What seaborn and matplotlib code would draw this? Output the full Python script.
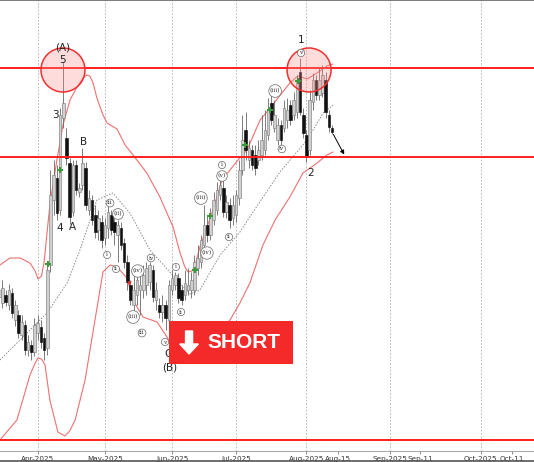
import matplotlib
matplotlib.use("Agg")
import matplotlib.pyplot as plt
import seaborn as sns
import pandas as pd
from matplotlib.patches import Ellipse, Rectangle, FancyArrow
from matplotlib.lines import Line2D

# ---------------- data (bar index = trading day, Mar-14-2025 = 0) ----------------
opens = [154, 148, 156, 146, 158, 131, 136, 116, 126, 101,
         106, 99, 118, 124, 113, 103, 186, 251, 273, 241,
         333, 313, 288, 239, 286, 259, 266, 283, 241, 251,
         236, 221, 229, 213, 223, 236, 229, 216, 223, 208,
         189, 166, 146, 156, 161, 161, 166, 169, 181, 151,
         146, 139, 146, 131, 161, 166, 173, 161, 156, 161,
         161, 161, 183, 189, 206, 226, 216, 231, 241, 256,
         263, 239, 246, 233, 236, 253, 281, 321, 291, 301,
         296, 291, 296, 301, 316, 348, 323, 311, 326, 323,
         331, 346, 336, 339, 379, 336, 316, 301, 349, 371,
         356, 358, 371, 336, 323]
highs = [168, 171, 161, 167, 163, 151, 141, 136, 131, 116,
         111, 133, 136, 131, 118, 186, 281, 291, 286, 343,
         389, 323, 293, 291, 291, 268, 303, 289, 261, 256,
         246, 241, 236, 233, 246, 241, 233, 231, 229, 213,
         196, 171, 176, 186, 181, 186, 189, 189, 186, 169,
         153, 156, 151, 171, 181, 179, 178, 166, 181, 183,
         179, 196, 206, 216, 246, 236, 243, 259, 269, 279,
         271, 256, 253, 256, 261, 291, 336, 339, 311, 306,
         306, 311, 336, 341, 353, 356, 351, 333, 331, 351,
         353, 351, 359, 376, 393, 343, 321, 361, 378, 376,
         383, 386, 379, 341, 326]
lows = [146, 143, 145, 141, 133, 125, 113, 111, 96, 95,
        91, 95, 111, 103, 91, 96, 179, 236, 231, 236,
        323, 286, 227, 235, 256, 254, 261, 241, 236, 226,
        213, 211, 203, 206, 213, 216, 206, 189, 201, 183,
        161, 146, 139, 146, 136, 153, 156, 161, 149, 141,
        133, 129, 121, 126, 156, 161, 148, 146, 151, 156,
        153, 156, 176, 183, 201, 209, 211, 226, 236, 251,
        234, 233, 223, 226, 229, 246, 276, 291, 283, 281,
        276, 286, 291, 296, 311, 326, 319, 306, 306, 319,
        323, 326, 331, 333, 336, 313, 289, 296, 341, 351,
        351, 354, 333, 319, 317]
closes = [161, 163, 149, 161, 138, 146, 118, 129, 101, 109,
          99, 126, 128, 109, 101, 181, 256, 276, 238, 336,
          348, 293, 234, 286, 261, 263, 288, 246, 253, 231,
          219, 233, 211, 226, 239, 221, 219, 226, 206, 189,
          169, 151, 161, 171, 166, 176, 183, 186, 154, 161,
          139, 146, 133, 166, 173, 176, 153, 151, 168, 166,
          171, 189, 193, 211, 226, 216, 236, 251, 261, 266,
          239, 249, 231, 246, 256, 281, 311, 301, 303, 286,
          283, 301, 311, 321, 341, 331, 336, 326, 311, 343,
          341, 331, 351, 369, 339, 318, 294, 351, 371, 356,
          371, 376, 339, 324, 319]

upper_idx = [0.2, 3.3, 6.5, 9.6, 11.2, 12.1, 13.2, 14.0, 15.8, 18.0, 19.9, 22.1, 24.3,
             26.2, 27.3, 28.3, 29.3, 30.5, 32.4, 33.7, 35.2, 36.8, 39.3, 41.8, 46.1,
             50.2, 54.3, 56.5, 58.0, 59.0, 60.2, 61.2, 62.7, 66.8, 69.6, 72.1, 74.6,
             77.4, 81.5, 84.6, 90.8, 93.3, 96.2, 99.3, 102.4, 104.3]
upper_val = [186, 193, 193, 188, 180, 172, 175, 189, 246, 291, 326, 351, 364,
             373, 376, 375, 368, 353, 336, 328, 325, 322, 306, 296, 278,
             254, 224, 198, 184, 179, 180, 186, 204, 241, 271, 281, 291,
             301, 331, 343, 368, 375, 372, 378, 385, 387]
lower_idx = [0.2, 5.5, 9.6, 11.2, 12.1, 13.2, 14.3, 15.8, 18.3, 20.5, 22.0, 23.7, 26.8,
             29.9, 32.4, 34.6, 36.8, 39.9, 41.8, 44.9, 49.3, 52.4, 54.3, 58.0, 62.7,
             67.4, 72.1, 75.2, 78.3, 82.4, 86.2, 90.8, 94.9, 99.3, 102.4, 104.3]
lower_val = [11, 31, 76, 88, 93, 92, 86, 51, 19, 15, 20, 31, 71,
             131, 179, 186, 184, 173, 151, 134, 129, 114, 104, 93, 101,
             116, 131, 148, 168, 206, 231, 254, 278, 288, 296, 299]
mid_idx = [0.2, 6.5, 14.9, 21.2, 25.2, 30.5, 35.5, 40.8, 47.1, 55.5, 59.6, 62.7,
           69.0, 75.2, 79.3, 87.7, 96.2, 101.2, 104.3]
mid_val = [91, 111, 138, 168, 201, 251, 258, 238, 201, 171, 157, 161,
           196, 219, 239, 279, 311, 338, 346]

level_values = [383, 294, 11]

tick_pos = [12, 33, 54, 74, 96, 106, 122.1, 131.5, 150.5, 160.2]
tick_labels = ["Apr-2025", "May-2025", "Jun-2025", "Jul-2025", "Aug-2025", "Aug-15",
               "Sep-2025", "Sep-11", "Oct-2025", "Oct-11"]
month_grid = [12, 33, 54, 74, 96, 122.1, 150.5]

wave_labels = ["(A)", "5", "3", "4", "A", "B", "1", "2", "C", "(B)"]
wave_x = [19.9, 19.9, 17.4, 19.0, 23.0, 26.2, 94.3, 97.4, 52.7, 53.3]
wave_y = [403, 391, 336, 223, 224, 309, 411, 278, 97, 84]

minor_labels = ["iii", "(ii)", "i", "ii", "(iv)", "iv", "(iii)", "iii", "v", "i", "ii",
                "(iv)", "(iii)", "(v)", "i", "ii", "(iii)", "iv", "v"]
minor_x = [34.6, 37.1, 33.7, 36.5, 43.3, 47.4, 41.8, 44.6, 51.8, 55.2, 56.8,
           64.9, 63.0, 69.6, 69.6, 71.8, 86.2, 88.3, 94.3]
minor_y = [248, 237, 196, 182, 180, 193, 134, 118, 109, 184, 139,
           198, 253, 275, 286, 214, 360, 302, 398]

buy_x = [15.2, 19.0, 61.2, 65.8, 76.8, 84.6, 93.3]
buy_y = [187, 281, 181, 235, 306, 341, 370]
sell_x = [40.5]
sell_y = [168]

circle_x = [19.9, 96.8]
circle_y = [381, 381]

# ---------------- figure ----------------
sns.set_theme(style="white")
plt.rcParams['font.family'] = ['DejaVu Sans']

fig = plt.figure(figsize=(5.34, 4.62), dpi=100)
ax = fig.add_axes([0, 11 / 462, 1, 451 / 462])
ax.set_xlim(0.22, 167.1)
ax.set_ylim(0, 451)
ax.set_facecolor("white")

for g in month_grid:
    ax.axvline(g, color="#b0b0b0", lw=0.6, ls=(0, (2, 2)), zorder=0)

# bands
bands = pd.DataFrame({"x": upper_idx, "y": upper_val})
sns.lineplot(data=bands, x="x", y="y", ax=ax, color="#f07070", lw=0.8, zorder=2, sort=False)
bands = pd.DataFrame({"x": lower_idx, "y": lower_val})
sns.lineplot(data=bands, x="x", y="y", ax=ax, color="#f07070", lw=0.8, zorder=2, sort=False)
mid = pd.DataFrame({"x": mid_idx, "y": mid_val})
sns.lineplot(data=mid, x="x", y="y", ax=ax, color="#8a8a8a", lw=0.7,
             linestyle=(0, (1.5, 1.5)), zorder=2, sort=False)

# candles
idx = list(range(len(closes)))
up = [c >= o for o, c in zip(opens, closes)]
ax.vlines(idx, lows, highs, color="#666666", lw=0.6, zorder=3)
bottoms = [min(o, c) for o, c in zip(opens, closes)]
heights = [max(abs(c - o), 1.5) for o, c in zip(opens, closes)]
face = ["#d0d0d0" if u else "#111111" for u in up]
edge = ["#808080" if u else "#111111" for u in up]
ax.bar(idx, heights, bottom=bottoms, width=0.8, color=face, edgecolor=edge,
       linewidth=0.45, zorder=4)

# levels
for lv in level_values:
    ax.axhline(lv, color="#ff1f1f", lw=1.4, zorder=5)

# circles
for cx, cy in zip(circle_x, circle_y):
    ax.add_patch(Ellipse((cx, cy), width=44 / 3.2, height=44, facecolor=(1, 0.55, 0.55, 0.3),
                         edgecolor="#f03030", lw=1.1, zorder=6))

# markers
ax.scatter(buy_x, buy_y, marker="P", s=22, color="#3a9a3a", linewidths=0, zorder=7)
ax.scatter(sell_x, sell_y, marker="v", s=10, color="#e03030", linewidths=0, zorder=7)

# wave labels
for t, x, y in zip(wave_labels, wave_x, wave_y):
    ax.text(x, y, t, fontsize=7.5, color="#222222", ha="center", va="center", zorder=8)
for t, x, y in zip(minor_labels, minor_x, minor_y):
    ax.text(x, y, t, fontsize=4.4, color="#333333", ha="center", va="center", zorder=8,
            family="DejaVu Serif",
            bbox=dict(boxstyle="circle,pad=0.18", fc="white", ec="#666666", lw=0.5))

# projection arrow
ax.annotate("", xy=(108.2, 294), xytext=(104.0, 319),
            arrowprops=dict(arrowstyle="-|>", color="black", lw=0.7, mutation_scale=6),
            zorder=8)

# SHORT box
ax.add_patch(Rectangle((53.0, 87), 38.8, 43, facecolor="#f42a2a", edgecolor="none", zorder=9))
ax.add_patch(FancyArrow(59.3, 120, 0, -23, width=2.2, head_width=5.8, head_length=10,
                        length_includes_head=True, color="white", zorder=10))
ax.text(76.4, 108, "SHORT", fontsize=15, fontweight="bold", color="white",
        family="Liberation Sans", ha="center", va="center", zorder=10)

# axes
ax.set_xticks(tick_pos)
ax.set_xticklabels(tick_labels, fontsize=5.2, color="#333333")
ax.set_yticks([])
ax.tick_params(axis="x", length=2.5, width=0.6, color="#777777", pad=1, bottom=True)
ax.set_xlabel("")
ax.set_ylabel("")
for s in ["left", "right"]:
    ax.spines[s].set_visible(False)
ax.spines["top"].set_color("#666666")
ax.spines["top"].set_linewidth(1.2)
ax.spines["bottom"].set_color("#aaaaaa")
ax.spines["bottom"].set_linewidth(0.8)
fig.add_artist(Line2D([0, 1], [1 / 462, 1 / 462], color="#555555", lw=1.2,
                      transform=fig.transFigure))

fig.savefig("out.png", dpi=100)
